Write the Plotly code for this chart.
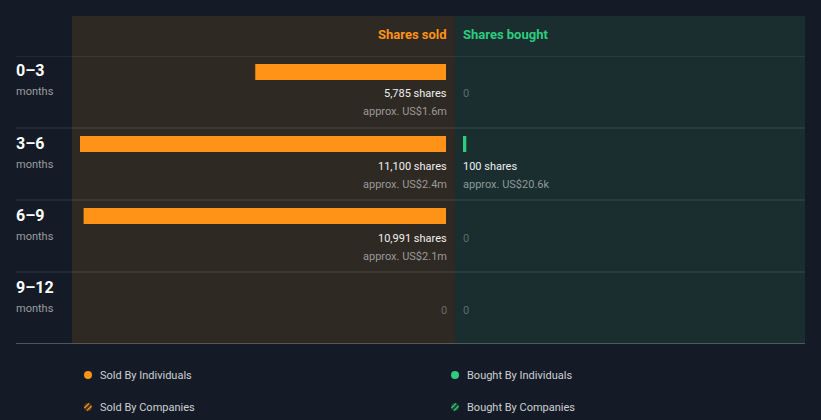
import math
import plotly.graph_objects as go

periods = ["0–3", "3–6", "6–9", "9–12"]
sold_shares = [5785, 11100, 10991, 0]
sold_value = ["US$1.6m", "US$2.4m", "US$2.1m", None]
bought_shares = [0, 100, 0, 0]
bought_value = [None, "US$20.6k", None, None]

W, H = 821, 420
BG = "#151b26"
SOLD_BG = "#2e2923"
BOUGHT_BG = "#1a2d2f"
ORANGE = "#ff9317"
GREEN = "#2ecc80"
FONT = "Roboto"

def px(x):
    return x / W

def py(y):
    return 1 - y / H

rows = list(range(len(periods)))
bar_off = 16 / 72
bar_w = 16 / 72

fig = go.Figure()
fig.add_trace(go.Bar(
    orientation="h", x=sold_shares, y=[r + bar_off for r in rows], width=bar_w,
    marker=dict(color=ORANGE, line=dict(width=0)), xaxis="x", yaxis="y",
    hoverinfo="skip", showlegend=False))
fig.add_trace(go.Bar(
    orientation="h", x=bought_shares, y=[r + bar_off for r in rows], width=bar_w,
    marker=dict(color=GREEN, line=dict(width=0)), xaxis="x2", yaxis="y",
    hoverinfo="skip", showlegend=False))

scale = 366 / 11100  # px per share
sold_range = [(446 - 72) / scale, -(455 - 446) / scale]
bought_range = [-(463 - 455) / scale, (805 - 463) / scale]

shapes = [
    dict(type="rect", xref="paper", yref="paper", x0=px(72), x1=px(455), y0=py(343.5), y1=py(16),
         fillcolor=SOLD_BG, line=dict(width=0), layer="below"),
    dict(type="rect", xref="paper", yref="paper", x0=px(455), x1=px(805), y0=py(343.5), y1=py(16),
         fillcolor=BOUGHT_BG, line=dict(width=0), layer="below"),
]
for r in rows:
    shapes.append(dict(type="line", xref="paper", yref="y", x0=px(16), x1=px(805), y0=r, y1=r,
                       line=dict(color="rgba(255,255,255,0.13)", width=1), layer="below"))
shapes.append(dict(type="line", xref="paper", yref="y", x0=px(16), x1=px(805), y0=len(rows), y1=len(rows),
                   line=dict(color="#8b9096", width=1)))

R_SHIFT = 3
L_SHIFT = -2

ann = []
ann.append(dict(text="<b>Shares sold</b>", x=px(446), y=py(34), xref="paper", yref="paper", xshift=R_SHIFT,
                xanchor="right", yanchor="middle", showarrow=False, font=dict(color=ORANGE, size=13, family=FONT)))
ann.append(dict(text="<b>Shares bought</b>", x=px(463), y=py(34), xref="paper", yref="paper", xshift=L_SHIFT,
                xanchor="left", yanchor="middle", showarrow=False, font=dict(color=GREEN, size=13, family=FONT)))

for r, p in enumerate(periods):
    ann.append(dict(text="<b>" + p + "</b>", x=px(14), y=r + 15 / 72, xref="paper", yref="y",
                    xanchor="left", yanchor="middle", showarrow=False, font=dict(color="white", size=16, family=FONT)))
    ann.append(dict(text="months", x=px(14), y=r + 36 / 72, xref="paper", yref="y",
                    xanchor="left", yanchor="middle", showarrow=False, font=dict(color="#9a9ca0", size=11, family=FONT)))
    # sold
    if sold_shares[r]:
        ann.append(dict(text=f"{sold_shares[r]:,} shares", x=0, y=r + 38 / 72, xref="x", yref="y", xshift=R_SHIFT,
                        xanchor="right", yanchor="middle", showarrow=False, font=dict(color="#f0f0f0", size=11, family=FONT)))
        ann.append(dict(text="approx. " + sold_value[r], x=0, y=r + 56 / 72, xref="x", yref="y", xshift=R_SHIFT,
                        xanchor="right", yanchor="middle", showarrow=False, font=dict(color="#9a9a9a", size=11, family=FONT)))
    else:
        ann.append(dict(text="0", x=0, y=r + 38 / 72, xref="x", yref="y", xshift=R_SHIFT,
                        xanchor="right", yanchor="middle", showarrow=False, font=dict(color="#6e6a66", size=11, family=FONT)))
    # bought
    if bought_shares[r]:
        ann.append(dict(text=f"{bought_shares[r]:,} shares", x=0, y=r + 38 / 72, xref="x2", yref="y", xshift=L_SHIFT,
                        xanchor="left", yanchor="middle", showarrow=False, font=dict(color="#f0f0f0", size=11, family=FONT)))
        ann.append(dict(text="approx. " + bought_value[r], x=0, y=r + 56 / 72, xref="x2", yref="y", xshift=L_SHIFT,
                        xanchor="left", yanchor="middle", showarrow=False, font=dict(color="#8e9a99", size=11, family=FONT)))
    else:
        ann.append(dict(text="0", x=0, y=r + 38 / 72, xref="x2", yref="y", xshift=L_SHIFT,
                        xanchor="left", yanchor="middle", showarrow=False, font=dict(color="#5a6e6c", size=11, family=FONT)))

# legend
legend_items = [
    ("Sold By Individuals", 88, 375, ORANGE, False),
    ("Sold By Companies", 88, 407, ORANGE, True),
    ("Bought By Individuals", 455, 375, GREEN, False),
    ("Bought By Companies", 455, 407, GREEN, True),
]
for label, cx, cy, col, hatched in legend_items:
    rr = 4
    if not hatched:
        shapes.append(dict(type="circle", xref="paper", yref="paper", x0=px(cx - rr), x1=px(cx + rr),
                           y0=py(cy + rr), y1=py(cy - rr), fillcolor=col, line=dict(width=0)))
    else:
        shapes.append(dict(type="circle", xref="paper", yref="paper", x0=px(cx - rr), x1=px(cx + rr),
                           y0=py(cy + rr), y1=py(cy - rr), fillcolor="#4a3720" if col == ORANGE else "#1f4434",
                           line=dict(width=0)))
        for d in (-1.8, 1.8):
            half = math.sqrt(rr * rr - d * d) - 0.3
            ox, oy = d / math.sqrt(2), d / math.sqrt(2)
            ux, uy = 1 / math.sqrt(2), -1 / math.sqrt(2)
            shapes.append(dict(type="line", xref="paper", yref="paper",
                               x0=px(cx + ox - ux * half), y0=py(cy + oy - uy * half),
                               x1=px(cx + ox + ux * half), y1=py(cy + oy + uy * half),
                               line=dict(color=col, width=1.3)))
    ann.append(dict(text=label, x=px(cx + 12), y=py(cy), xref="paper", yref="paper", xshift=-2,
                    xanchor="left", yanchor="middle", showarrow=False, font=dict(color="#cdd0d4", size=11, family=FONT)))

fig.update_layout(
    width=W, height=H, margin=dict(l=0, r=0, t=0, b=0),
    paper_bgcolor=BG, plot_bgcolor="rgba(0,0,0,0)",
    barmode="overlay", showlegend=False,
    xaxis=dict(domain=[px(72), px(455)], range=sold_range, visible=False, fixedrange=True),
    xaxis2=dict(domain=[px(455), px(805)], range=bought_range, visible=False, fixedrange=True, anchor="y"),
    yaxis=dict(domain=[py(344), py(56)], range=[len(rows), 0], visible=False, fixedrange=True),
    shapes=shapes, annotations=ann,
    font=dict(family=FONT),
)

fig.write_html("out.html", config={"displayModeBar": False})
